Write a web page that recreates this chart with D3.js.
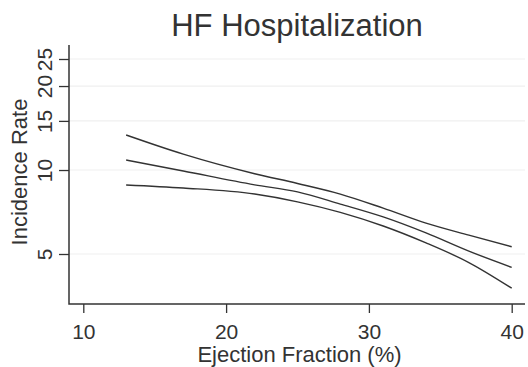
<!DOCTYPE html>
<html>
<head>
<meta charset="utf-8">
<script src="https://cdn.jsdelivr.net/npm/d3@7"></script>
<style>
  html, body { margin: 0; padding: 0; background: #fff; }
  svg { display: block; font-family: "Liberation Sans", Arial, Helvetica, sans-serif; }
</style>
</head>
<body>
<svg id="chart" width="528" height="367"></svg>
<script>
// Ejection fraction (%) grid and fitted incidence rate with its confidence band
const ejectionFraction = [13, 17, 22, 25, 28, 31, 34, 37, 40];
const upperBound = [13.35, 11.4, 9.7, 8.95, 8.2, 7.3, 6.45, 5.84, 5.31];
const estimate   = [10.86, 9.92, 8.85, 8.35, 7.55, 6.79, 5.95, 5.12, 4.48];
const lowerBound = [8.84, 8.62, 8.2, 7.69, 7.05, 6.3, 5.48, 4.66, 3.77];

const xTicks = [10, 20, 30, 40];
const yTicks = [5, 10, 15, 20, 25];

const svg = d3.select("#chart");
const ink = "#333";

// plot region
const plotLeft = 69, plotRight = 525, plotTop = 45, plotBottom = 304;

const x = d3.scaleLinear().domain([10, 40]).range([83.3, 511.7]);
const y = d3.scaleLog().domain([5, 25]).range([254, 59]);

// horizontal grid lines
svg.append("g")
  .selectAll("line")
  .data(yTicks)
  .join("line")
  .attr("x1", plotLeft).attr("x2", plotRight)
  .attr("y1", d => y(d)).attr("y2", d => y(d))
  .attr("stroke", "#efefef")
  .attr("stroke-width", 1.2);

// y axis
const yAxis = svg.append("g")
  .attr("transform", `translate(${plotLeft},0)`)
  .call(d3.axisLeft(y).tickValues(yTicks).tickFormat(d3.format("d")).tickSize(10).tickPadding(6));
yAxis.select(".domain").remove();
yAxis.selectAll(".tick line").attr("stroke", ink).attr("stroke-width", 1.3);
yAxis.selectAll(".tick text")
  .attr("fill", ink)
  .attr("font-size", 21)
  .attr("transform", "rotate(-90)")
  .attr("x", 0)
  .attr("y", -17.5)
  .attr("dy", 0)
  .attr("text-anchor", "middle");

// x axis
const xAxis = svg.append("g")
  .attr("transform", `translate(0,${plotBottom})`)
  .call(d3.axisBottom(x).tickValues(xTicks).tickFormat(d3.format("d")).tickSize(9).tickPadding(6));
xAxis.select(".domain").remove();
xAxis.selectAll(".tick line").attr("stroke", ink).attr("stroke-width", 1.3);
xAxis.selectAll(".tick text")
  .attr("fill", ink)
  .attr("font-size", 21)
  .attr("y", 35.3)
  .attr("dy", 0);

// axis lines
svg.append("path")
  .attr("d", `M${plotLeft},${plotTop}V${plotBottom}H${plotRight}`)
  .attr("fill", "none")
  .attr("stroke", ink)
  .attr("stroke-width", 1.5);

// fitted curves
const line = d3.line()
  .x(d => x(d[0]))
  .y(d => y(d[1]))
  .curve(d3.curveMonotoneX);

[upperBound, estimate, lowerBound].forEach(series => {
  svg.append("path")
    .datum(ejectionFraction.map((ef, i) => [ef, series[i]]))
    .attr("d", line)
    .attr("fill", "none")
    .attr("stroke", ink)
    .attr("stroke-width", 1.4);
});

// title and axis titles
svg.append("text")
  .attr("x", (plotLeft + plotRight) / 2)
  .attr("y", 36)
  .attr("text-anchor", "middle")
  .attr("font-size", 31)
  .attr("fill", ink)
  .text("HF Hospitalization");

svg.append("text")
  .attr("x", 299.5)
  .attr("y", 361.5)
  .attr("text-anchor", "middle")
  .attr("font-size", 22)
  .attr("fill", ink)
  .text("Ejection Fraction (%)");

svg.append("text")
  .attr("transform", "translate(27,172) rotate(-90)")
  .attr("text-anchor", "middle")
  .attr("font-size", 22)
  .attr("fill", ink)
  .text("Incidence Rate");
</script>
</body>
</html>
